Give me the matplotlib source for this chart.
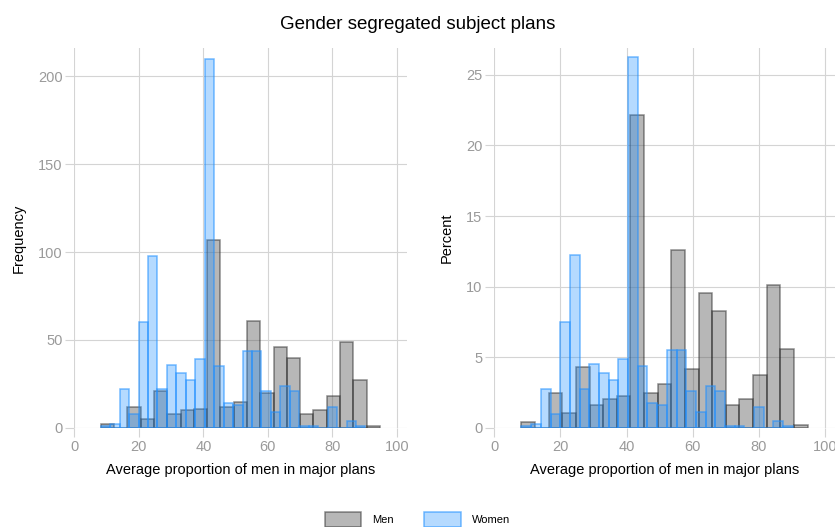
import numpy as np
import matplotlib
matplotlib.use("Agg")
import matplotlib.pyplot as plt
import matplotlib.patches as mpatches

plt.rcParams["font.family"] = ["Liberation Sans", "DejaVu Sans"]

# histogram counts (men: 21 bins, women: 28 bins)
men_bin_start = 8.2
men_bin_width = 4.12
men_counts = [2, 0, 12, 5, 21, 8, 10, 11, 107, 12, 15, 61, 20, 46, 40, 8, 10, 18, 49, 27, 1]

women_bin_start = 8.2
women_bin_width = 2.93
women_counts = [1, 2, 22, 8, 60, 98, 22, 36, 31, 27, 39, 210, 35, 14, 13, 44, 44,
                21, 9, 24, 21, 1, 1, 0, 12, 0, 4, 1]

x_ticks = [0, 20, 40, 60, 80, 100]

men_counts = np.array(men_counts, dtype=float)
women_counts = np.array(women_counts, dtype=float)
men_left = men_bin_start + men_bin_width * np.arange(len(men_counts))
women_left = women_bin_start + women_bin_width * np.arange(len(women_counts))

grid_col = "#d4d4d4"
tick_col = "#9a9a9a"
men_fc = (0.33, 0.33, 0.33, 0.42)
men_ec = (0.12, 0.12, 0.12, 0.5)
women_fc = (0.12, 0.56, 1.0, 0.33)
women_ec = (0.12, 0.56, 1.0, 0.6)

fig = plt.figure(figsize=(8.35, 5.27), dpi=100)
ax1 = fig.add_axes([0.089, 0.188, 0.398, 0.721])
ax2 = fig.add_axes([0.592, 0.188, 0.408, 0.721])


def style(ax, ymax, yticks, ylabel):
    ax.set_xlim(0, 103)
    ax.set_ylim(0, ymax)
    ax.set_xticks(x_ticks)
    ax.set_yticks(yticks)
    ax.grid(True, color=grid_col, linewidth=0.8)
    ax.set_axisbelow(True)
    for s in ax.spines.values():
        s.set_visible(False)
    ax.tick_params(axis="both", length=6.5, width=0.8, color=grid_col,
                   labelcolor=tick_col, labelsize=10.5, pad=2)
    ax.set_xlabel("Average proportion of men in major plans", fontsize=10.5, labelpad=7)
    ax.set_ylabel(ylabel, fontsize=10.5, labelpad=9)


# left: frequency
ax1.bar(men_left, men_counts, width=men_bin_width, align="edge",
        facecolor=men_fc, edgecolor=men_ec, linewidth=1.1)
ax1.bar(women_left, women_counts, width=women_bin_width, align="edge",
        facecolor=women_fc, edgecolor=women_ec, linewidth=1.1)
style(ax1, 216, [0, 50, 100, 150, 200], "Frequency")

# right: percent
men_pct = men_counts / men_counts.sum() * 100
women_pct = women_counts / women_counts.sum() * 100
ax2.bar(men_left, men_pct, width=men_bin_width, align="edge",
        facecolor=men_fc, edgecolor=men_ec, linewidth=1.1)
ax2.bar(women_left, women_pct, width=women_bin_width, align="edge",
        facecolor=women_fc, edgecolor=women_ec, linewidth=1.1)
style(ax2, 26.9, [0, 5, 10, 15, 20, 25], "Percent")

fig.suptitle("Gender segregated subject plans", fontsize=13.5, y=0.97)

handles = [mpatches.Patch(facecolor=men_fc, edgecolor=men_ec, linewidth=1.1, label="Men"),
           mpatches.Patch(facecolor=women_fc, edgecolor=women_ec, linewidth=1.1, label="Women")]
fig.legend(handles=handles, loc="center", bbox_to_anchor=(0.5, 0.014), ncol=2,
           frameon=False, fontsize=8, handlelength=3.3, handleheight=1.8,
           handletextpad=1.0, columnspacing=2.7)

fig.savefig("out.png", dpi=100)
